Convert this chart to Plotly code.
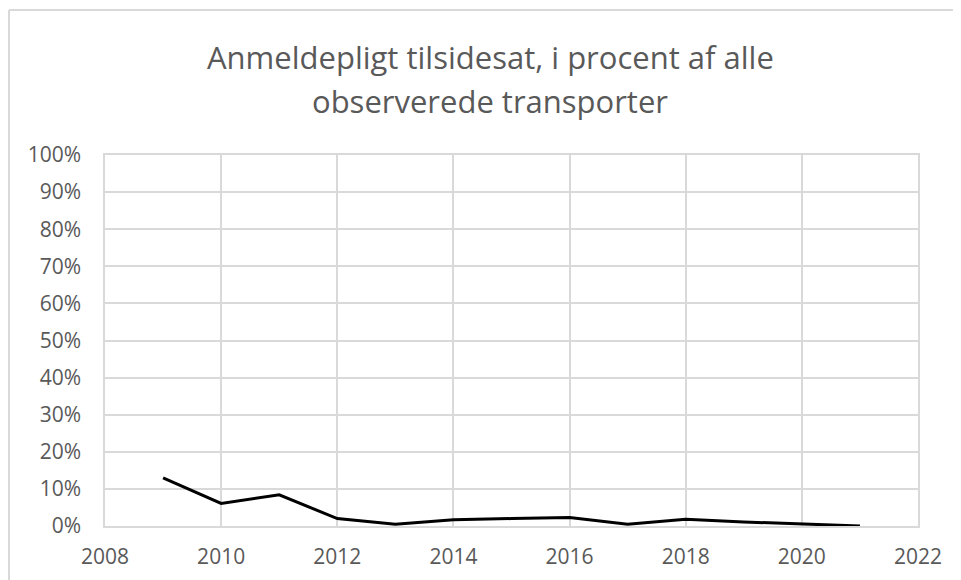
import plotly.graph_objects as go

years = [2009, 2010, 2011, 2012, 2013, 2014, 2015, 2016, 2017, 2018, 2019, 2020, 2021]
values = [0.13, 0.061, 0.084, 0.020, 0.005, 0.017, 0.020, 0.023, 0.005, 0.018, 0.011, 0.006, 0.0]
title_lines = ["Anmeldepligt tilsidesat, i procent af alle", "observerede transporter"]

W, H = 961, 580
OFF = 8  # page body margin offset
# target screen positions of plot area: left 105, right 918, top 155, bottom 526
L = 105 - OFF
T = 155 - OFF
R = W + OFF - 918
B = H + OFF - 526
pw, ph = W - L - R, H - T - B

FONT = "'Open Sans', 'Noto Sans', sans-serif"
TXT = "#595959"
grid = "#d9d9d9"

fig = go.Figure()
fig.add_trace(go.Scatter(x=years, y=values, mode="lines",
                         line=dict(color="#000000", width=3), showlegend=False))

fig.update_layout(
    width=W, height=H,
    margin=dict(l=L, r=R, t=T, b=B),
    paper_bgcolor="white", plot_bgcolor="white",
    font=dict(family=FONT, color=TXT, size=21),
    xaxis=dict(range=[2008, 2022], dtick=2, tick0=2008, showgrid=True, gridcolor=grid,
               gridwidth=1.5, showline=True, linecolor=grid, linewidth=1.5, mirror=True,
               zeroline=False, ticks="", ticklabelstandoff=11, fixedrange=True),
    yaxis=dict(range=[0, 1], dtick=0.1, tickformat=".0%", showgrid=True, gridcolor=grid,
               gridwidth=1.5, showline=True, linecolor=grid, linewidth=1.5, mirror=True,
               zeroline=False, ticks="", ticklabelstandoff=18, fixedrange=True),
)


def px_x(x):
    return (x - OFF - L) / pw


def px_y(y):
    return 1 - (y - OFF - T) / ph


# chart title, two centred lines
for line, yc in zip(title_lines, [57, 101]):
    fig.add_annotation(text=line, xref="paper", yref="paper", x=px_x(490), y=px_y(yc),
                       xanchor="center", yanchor="middle", showarrow=False,
                       font=dict(family=FONT, size=31, color=TXT))

# outer chart border (top and left visible)
fig.add_shape(type="line", xref="paper", yref="paper", x0=px_x(9), x1=px_x(W + 20),
              y0=px_y(10), y1=px_y(10), line=dict(color="#d9d9d9", width=2))
fig.add_shape(type="line", xref="paper", yref="paper", x0=px_x(9), x1=px_x(9),
              y0=px_y(10), y1=px_y(H + 20), line=dict(color="#d9d9d9", width=2))

fig.write_html("out.html")
